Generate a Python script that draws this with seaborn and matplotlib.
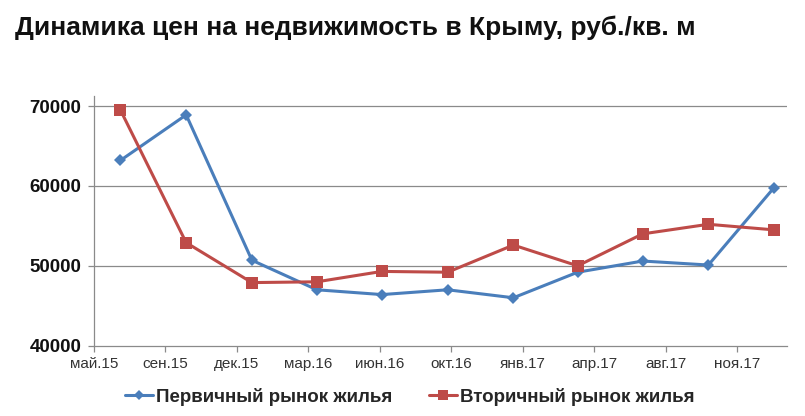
import matplotlib
matplotlib.use("Agg")
import matplotlib.pyplot as plt
import seaborn as sns
import pandas as pd

# ---- data ----
dates = ['2015-07-01', '2015-10-01', '2016-01-01', '2016-04-01', '2016-07-01',
         '2016-10-01', '2017-01-01', '2017-04-01', '2017-07-01', '2017-10-01',
         '2018-01-01']
primary = [63200, 68900, 50700, 47000, 46400, 47000, 46000, 49200, 50600, 50100, 59800]
secondary = [69500, 52900, 47900, 48000, 49300, 49200, 52600, 50000, 54000, 55200, 54500]
series_names = ['Первичный рынок жилья', 'Вторичный рынок жилья']

tick_dates = ['2015-05-25', '2015-09-02', '2015-12-11', '2016-03-20', '2016-06-28',
              '2016-10-06', '2017-01-14', '2017-04-24', '2017-08-02', '2017-11-10']
tick_labels = ['май.15', 'сен.15', 'дек.15', 'мар.16', 'июн.16',
               'окт.16', 'янв.17', 'апр.17', 'авг.17', 'ноя.17']
y_ticks = [40000, 50000, 60000, 70000]
title = 'Динамика цен на недвижимость в Крыму, руб./кв. м'

df = pd.DataFrame({
    'date': pd.to_datetime(dates * 2),
    'value': primary + secondary,
    'series': [series_names[0]] * len(dates) + [series_names[1]] * len(dates),
})

sns.set_theme(style='white')
plt.rcParams['font.family'] = ['Liberation Sans', 'DejaVu Sans']

fig = plt.figure(figsize=(8.05, 4.16), dpi=100)
ax = fig.add_axes([0.1168, 0.169, 0.8608, 0.600])

palette = {series_names[0]: '#4A7EBB', series_names[1]: '#BE4B48'}
markers = {series_names[0]: 'D', series_names[1]: 's'}
sns.lineplot(data=df, x='date', y='value', hue='series', style='series',
             palette=palette, markers=markers, dashes=False, linewidth=2.2,
             markersize=7, markeredgewidth=0, ax=ax, legend=False)
for line, name in zip(ax.get_lines(), series_names):
    if name == series_names[0]:
        line.set_markersize(6.5)
    else:
        line.set_markersize(8.5)

ax.set_xlim(pd.Timestamp('2015-05-25'), pd.Timestamp('2018-01-19'))
ax.set_ylim(40000, 71250)
ax.set_xticks(pd.to_datetime(tick_dates))
ax.set_xticklabels(tick_labels, fontsize=11, color='#333333')
ax.set_yticks(y_ticks)
ax.set_yticklabels([str(v) for v in y_ticks], fontsize=13.5, fontweight='bold', color='#111111')
ax.set_xlabel('')
ax.set_ylabel('')

for v in y_ticks[1:]:
    ax.axhline(v, color='#8a8a8a', linewidth=0.9, zorder=0)

for s in ['top', 'right']:
    ax.spines[s].set_visible(False)
for s in ['left', 'bottom']:
    ax.spines[s].set_color('#8a8a8a')
    ax.spines[s].set_linewidth(0.9)
ax.tick_params(axis='both', which='major', direction='out', length=4, width=0.9,
               color='#8a8a8a', left=True, bottom=True)
ax.tick_params(axis='y', pad=5)
ax.tick_params(axis='x', pad=4)

fig.text(0.019, 0.933, title, fontsize=19, fontweight='bold',
         family=['Liberation Sans Narrow', 'Liberation Sans', 'DejaVu Sans'],
         va='center', ha='left', color='#111111')

handles = [
    plt.Line2D([], [], color='#4A7EBB', marker='D', markersize=5.5, linewidth=2.2, markeredgewidth=0),
    plt.Line2D([], [], color='#BE4B48', marker='s', markersize=7, linewidth=2.2, markeredgewidth=0),
]
fig.legend(handles, series_names, loc='center', bbox_to_anchor=(0.509, 0.046), ncol=2,
           frameon=False, prop={'size': 13.5, 'weight': 'bold'}, handlelength=1.5,
           handletextpad=0.15, columnspacing=2.0, numpoints=1)

fig.savefig('out.png', dpi=100, facecolor='white')
